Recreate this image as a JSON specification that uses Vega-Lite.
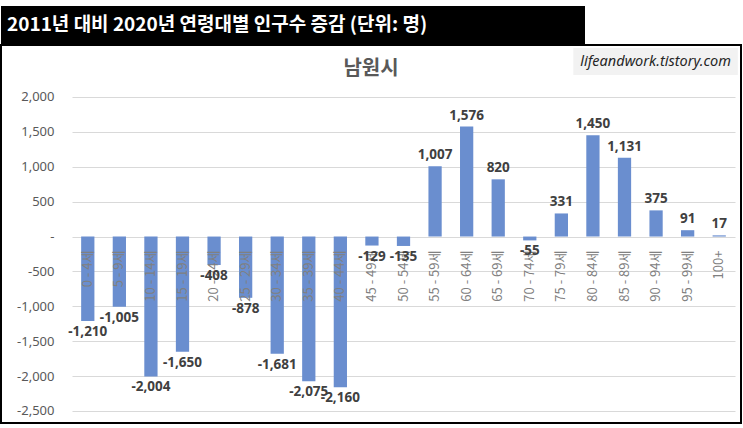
{
  "$schema": "https://vega.github.io/schema/vega-lite/v6.json",
  "description": "남원시 연령대별 인구수 증감, 2011년 대비 2020년",
  "padding": {"left": 0, "top": 6, "right": 0, "bottom": 0},
  "spacing": 0,
  "vconcat": [
    {
      "width": 584,
      "height": 38,
      "view": {"fill": "black", "stroke": null},
      "data": {"values": [{"title": "2011년 대비 2020년 연령대별 인구수 증감 (단위: 명)"}]},
      "mark": {
        "type": "text",
        "align": "left",
        "baseline": "middle",
        "dx": 6,
        "font": "Noto Sans CJK KR",
        "fontWeight": "bold",
        "fontSize": 19,
        "color": "white"
      },
      "encoding": {
        "x": {
          "field": "title",
          "type": "nominal",
          "scale": {"type": "point", "padding": 0, "align": 0},
          "axis": null
        },
        "text": {"field": "title"}
      }
    },
    {
      "width": 740,
      "height": 378,
      "view": {"stroke": "black", "strokeWidth": 2, "fill": "white"},
      "title": {
        "text": "남원시",
        "frame": "group",
        "anchor": "middle",
        "offset": -34,
        "font": "Noto Sans CJK KR",
        "fontSize": 20,
        "fontWeight": "bold",
        "color": "#595959"
      },
      "data": {
        "values": [
          {"age": "0 - 4세", "change": -1210},
          {"age": "5 - 9세", "change": -1005},
          {"age": "10 - 14세", "change": -2004},
          {"age": "15 - 19세", "change": -1650},
          {"age": "20 - 24세", "change": -408},
          {"age": "25 - 29세", "change": -878},
          {"age": "30 - 34세", "change": -1681},
          {"age": "35 - 39세", "change": -2075},
          {"age": "40 - 44세", "change": -2160},
          {"age": "45 - 49세", "change": -129},
          {"age": "50 - 54세", "change": -135},
          {"age": "55 - 59세", "change": 1007},
          {"age": "60 - 64세", "change": 1576},
          {"age": "65 - 69세", "change": 820},
          {"age": "70 - 74세", "change": -55},
          {"age": "75 - 79세", "change": 331},
          {"age": "80 - 84세", "change": 1450},
          {"age": "85 - 89세", "change": 1131},
          {"age": "90 - 94세", "change": 375},
          {"age": "95 - 99세", "change": 91},
          {"age": "100+", "change": 17}
        ]
      },
      "transform": [
        {"calculate": "replace(format(datum.change, ','), '\u2212', '-')", "as": "label"}
      ],
      "encoding": {
        "x": {
          "field": "age",
          "type": "nominal",
          "sort": null,
          "scale": {"range": [71, 734], "paddingInner": 0.58, "paddingOuter": 0.29},
          "axis": null
        }
      },
      "layer": [
        {
          "mark": {"type": "bar", "color": "#6a8ecf"},
          "encoding": {
            "y": {
              "field": "change",
              "type": "quantitative",
              "scale": {"domain": [-2672, 2745], "nice": false, "zero": false},
              "axis": {
                "title": null,
                "values": [-2500, -2000, -1500, -1000, -500, 0, 500, 1000, 1500, 2000],
                "labelExpr": "datum.value == 0 ? '-' : replace(format(datum.value, ','), '\u2212', '-')",
                "offset": -58,
                "domain": false,
                "ticks": false,
                "labelPadding": 5,
                "labelFont": "Noto Sans",
                "labelFontSize": 13,
                "labelColor": "#595959",
                "gridColor": "#d9d9d9",
                "gridWidth": 1
              }
            }
          }
        },
        {
          "mark": {
            "type": "text",
            "angle": 270,
            "align": "right",
            "baseline": "middle",
            "dx": -14,
            "font": "Noto Sans CJK KR",
            "fontSize": 13,
            "color": "#808080"
          },
          "encoding": {
            "y": {"datum": 0, "type": "quantitative"},
            "text": {"field": "age"}
          }
        },
        {
          "transform": [{"filter": "datum.change < 0"}],
          "mark": {
            "type": "text",
            "baseline": "top",
            "dy": 4,
            "font": "Noto Sans",
            "fontWeight": "bold",
            "fontSize": 13.5,
            "color": "#404040"
          },
          "encoding": {
            "y": {"field": "change", "type": "quantitative"},
            "text": {"field": "label"}
          }
        },
        {
          "transform": [{"filter": "datum.change >= 0"}],
          "mark": {
            "type": "text",
            "baseline": "bottom",
            "dy": -4,
            "font": "Noto Sans",
            "fontWeight": "bold",
            "fontSize": 13.5,
            "color": "#404040"
          },
          "encoding": {
            "y": {"field": "change", "type": "quantitative"},
            "text": {"field": "label"}
          }
        },
        {
          "data": {"values": [{"note": "lifeandwork.tistory.com"}]},
          "mark": {"type": "rect", "color": "#f2f2f2", "xOffset": -13, "x2Offset": 12},
          "encoding": {
            "x": {"datum": "80 - 84세", "bandPosition": 0},
            "x2": {"datum": "100+", "bandPosition": 1},
            "y": {"datum": 2702, "type": "quantitative"},
            "y2": {"datum": 2315}
          }
        },
        {
          "data": {"values": [{"note": "lifeandwork.tistory.com"}]},
          "mark": {
            "type": "text",
            "align": "right",
            "baseline": "middle",
            "dx": 5,
            "font": "Noto Sans",
            "fontStyle": "italic",
            "fontSize": 14.5,
            "color": "#262626"
          },
          "encoding": {
            "x": {"datum": "100+", "bandPosition": 1},
            "y": {"datum": 2500, "type": "quantitative"},
            "text": {"field": "note"}
          }
        }
      ]
    }
  ]
}
